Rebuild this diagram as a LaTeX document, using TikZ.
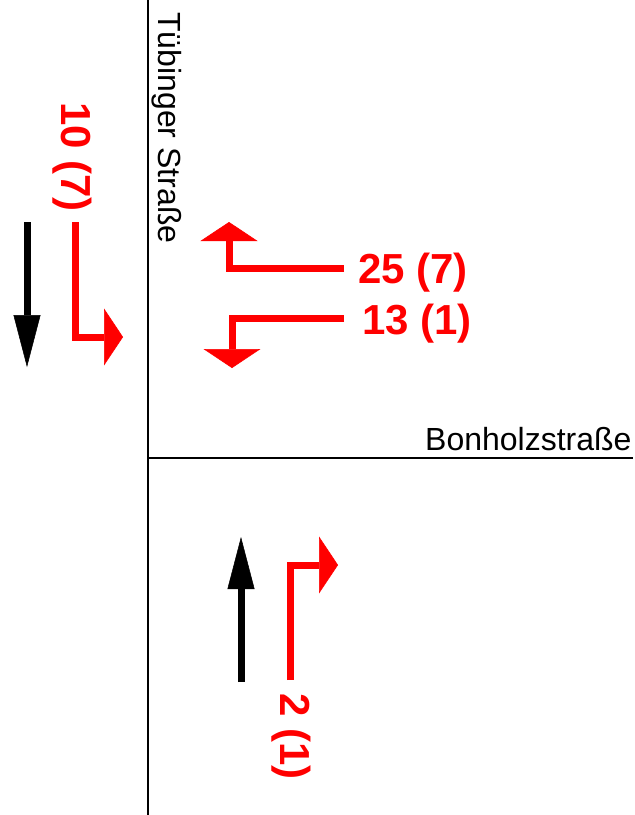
\documentclass[tikz,border=0pt]{standalone}
\usepackage{fontspec}
\setmainfont{Liberation Sans}
\usetikzlibrary{arrows.meta}
\definecolor{turnred}{rgb}{1,0,0}

\tikzset{
  street/.style={draw=black, line width=2pt},
  turn/.style={draw=turnred, line width=7pt, -{Triangle[length=19pt,width=57pt,line width=0.5pt]}},
  flow/.style={draw=black, line width=7pt, -{Triangle[length=52pt,width=27pt,line width=0.5pt]}},
  countlabel/.style={text=turnred, font=\fontsize{42}{48}\selectfont\bfseries, inner sep=0pt},
  streetname/.style={font=\fontsize{32}{38}\selectfont, inner sep=0pt}
}

\begin{document}
\begin{tikzpicture}[x=1pt, y=-1pt]
\useasboundingbox (0,0) rectangle (635,815);

% streets
\coordinate (north) at (148,0);
\coordinate (south) at (148,815);
\coordinate (cross) at (148,458);
\coordinate (east) at (633,458);
\draw[street] (north) -- (south);
\draw[street] (cross) -- (east);

\node[streetname, rotate=-90, anchor=base west] (tuebingen) at (158,12) {Tübinger Straße};
\node[streetname, anchor=base west] (bonholz) at (425,450) {Bonholzstraße};

% counts
\node[countlabel, rotate=-90, anchor=base west] (c10) at (61,102) {10 (7)};
\node[countlabel, anchor=base west] (c25) at (358,283) {25 (7)};
\node[countlabel, anchor=base west] (c13) at (362,334) {13 (1)};
\node[countlabel, rotate=-90, anchor=base west] (c2) at (280,693) {2 (1)};

% flow directions
\coordinate (f1a) at (27,222);
\coordinate (f1b) at (27,367);
\draw[flow] (f1a) -- (f1b);
\coordinate (f2a) at (241,682);
\coordinate (f2b) at (241,537);
\draw[flow] (f2a) -- (f2b);

% turning arrows
\coordinate (t1a) at (75,222);
\coordinate (t1b) at (123,337);
\draw[turn] (t1a) |- (t1b);
\coordinate (t2a) at (344,268);
\coordinate (t2b) at (229,222);
\draw[turn] (t2a) -| (t2b);
\coordinate (t3a) at (344,318);
\coordinate (t3b) at (232,368);
\draw[turn] (t3a) -| (t3b);
\coordinate (t4a) at (290,680);
\coordinate (t4b) at (338,565);
\draw[turn] (t4a) |- (t4b);

\end{tikzpicture}
\end{document}
